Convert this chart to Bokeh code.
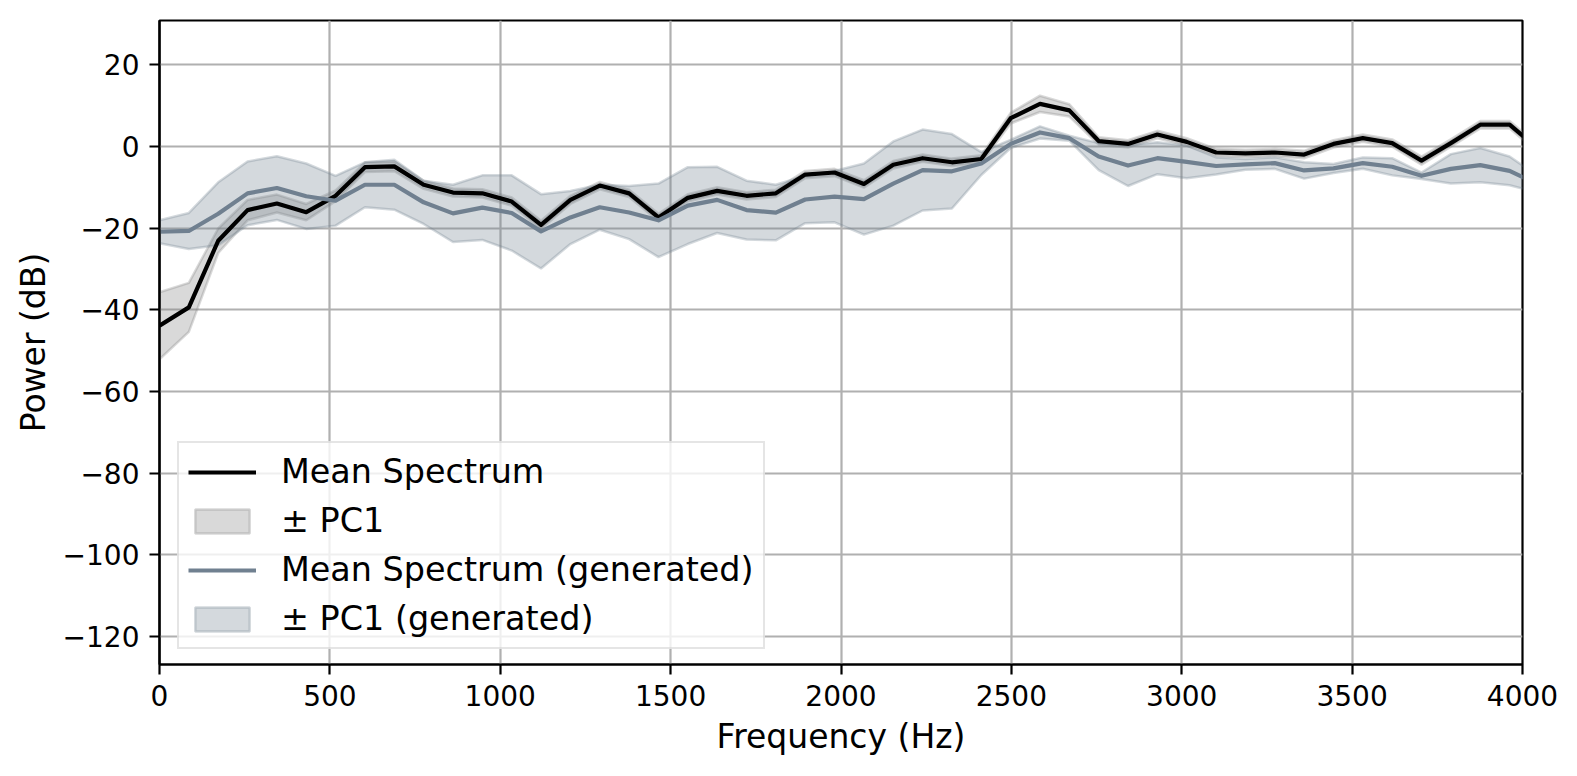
import numpy as np
from bokeh.plotting import figure
from bokeh.models import Range1d, FixedTicker, Legend, LegendItem
from bokeh.embed import file_html
from bokeh.resources import INLINE

# Frequency bins (Hz)
freq = [0.0, 86.1, 172.3, 258.4, 344.5, 430.7, 516.8, 602.9, 689.1, 775.2,
        861.3, 947.5, 1033.6, 1119.7, 1205.9, 1292.0, 1378.1, 1464.3, 1550.4, 1636.5,
        1722.7, 1808.8, 1894.9, 1981.1, 2067.2, 2153.3, 2239.5, 2325.6, 2411.7, 2497.9,
        2584.0, 2670.1, 2756.2, 2842.4, 2928.5, 3014.6, 3100.8, 3186.9, 3273.0, 3359.2,
        3445.3, 3531.4, 3617.6, 3703.7, 3789.8, 3876.0, 3962.1, 4048.2]

# Mean power spectrum of the recorded set (dB)
mean_spec = [-43.9, -39.4, -23.1, -15.6, -14.0, -16.1, -12.1, -5.1, -4.9, -9.4,
             -11.3, -11.5, -13.5, -19.2, -13.1, -9.6, -11.5, -17.4, -12.6, -10.9,
             -12.1, -11.5, -6.9, -6.4, -9.2, -4.5, -2.9, -3.9, -3.1, 6.9,
             10.4, 8.8, 1.3, 0.6, 2.9, 1.1, -1.5, -1.7, -1.5, -2.0,
             0.6, 2.0, 0.8, -3.5, 0.8, 5.3, 5.3, -0.8]

# First principal component amplitude around the mean (dB)
pc1 = [8.2, 6.0, 3.0, 2.5, 2.2, 2.0, 1.3, 1.2, 1.2, 1.0,
       1.0, 1.0, 1.0, 1.0, 1.0, 0.9, 0.9, 0.9, 0.9, 0.9,
       0.9, 0.9, 0.9, 0.9, 0.9, 0.9, 0.9, 0.9, 0.9, 1.3,
       2.0, 1.5, 0.9, 0.9, 0.9, 0.9, 0.9, 0.9, 0.9, 0.9,
       0.9, 0.9, 0.9, 1.0, 0.9, 0.9, 0.9, 0.9]

# Mean power spectrum of the generated set (dB)
mean_gen = [-20.9, -20.7, -16.5, -11.5, -10.2, -12.2, -13.3, -9.4, -9.4, -13.7,
            -16.4, -15.0, -16.3, -20.8, -17.4, -14.9, -16.2, -18.1, -14.5, -13.1,
            -15.6, -16.2, -13.0, -12.3, -12.9, -9.1, -5.8, -6.1, -4.2, 0.6,
            3.4, 2.0, -2.5, -4.7, -2.9, -3.8, -4.8, -4.4, -4.1, -5.9,
            -5.4, -4.1, -5.0, -7.2, -5.5, -4.6, -6.0, -9.4]

# First principal component amplitude of the generated set (dB)
pc1_gen = [2.8, 4.4, 7.7, 7.8, 7.8, 8.0, 6.1, 5.5, 6.1, 5.3,
           7.0, 7.9, 9.2, 9.1, 6.5, 5.5, 6.5, 9.0, 9.4, 8.1,
           7.2, 6.8, 5.8, 6.3, 8.7, 10.3, 9.9, 9.1, 2.8, 1.0,
           1.5, 0.6, 3.3, 5.0, 3.9, 4.0, 2.1, 1.3, 1.4, 2.0,
           1.1, 1.4, 2.1, 0.8, 3.6, 4.2, 3.5, 2.0]

x_ticks = [0, 500, 1000, 1500, 2000, 2500, 3000, 3500, 4000]
y_ticks = [-120, -100, -80, -60, -40, -20, 0, 20]

FONT = "DejaVu Sans"
GEN_COLOR = "#708090"

p = figure(
    frame_width=1363, frame_height=644,
    min_border_left=159, min_border_right=55,
    min_border_top=20, min_border_bottom=112,
    x_range=Range1d(0, 4000), y_range=Range1d(-126.8, 30.8),
    output_backend="svg", toolbar_location=None,
)
p.background_fill_color = "white"
p.border_fill_color = "white"
p.outline_line_color = "black"
p.outline_line_width = 2.2


def band(center, spread):
    c = np.asarray(center)
    s = np.asarray(spread)
    xs = np.concatenate([freq, freq[::-1]])
    ys = np.concatenate([c + s, (c - s)[::-1]])
    return xs, ys


bx, by = band(mean_spec, pc1)
band_real = p.patch(bx, by, fill_color="gray", fill_alpha=0.3,
                    line_color="gray", line_alpha=0.3, line_width=2.5)
gx, gy = band(mean_gen, pc1_gen)
band_gen = p.patch(gx, gy, fill_color=GEN_COLOR, fill_alpha=0.3,
                   line_color=GEN_COLOR, line_alpha=0.3, line_width=2.5)

line_real = p.line(freq, mean_spec, line_color="black", line_width=4.2,
                   line_join="round")
line_gen = p.line(freq, mean_gen, line_color=GEN_COLOR, line_width=4.2,
                  line_join="round")

# axes
for ax in (p.xaxis[0], p.yaxis[0]):
    ax.axis_line_color = "black"
    ax.axis_line_width = 2.2
    ax.major_tick_line_color = "black"
    ax.major_tick_line_width = 2.2
    ax.major_tick_out = 10
    ax.major_tick_in = 0
    ax.minor_tick_line_color = None
    ax.major_label_standoff = 10
    ax.major_label_text_font = FONT
    ax.major_label_text_font_size = "28px"
    ax.major_label_text_color = "black"
    ax.axis_label_text_font = FONT
    ax.axis_label_text_font_size = "33px"
    ax.axis_label_text_font_style = "normal"
    ax.axis_label_text_color = "black"

p.xaxis.ticker = FixedTicker(ticks=x_ticks)
p.yaxis.ticker = FixedTicker(ticks=y_ticks)
p.yaxis.major_label_overrides = {t: (str(t).replace("-", "\u2212")) for t in y_ticks}
p.xaxis.axis_label = "Frequency (Hz)"
p.yaxis.axis_label = "Power (dB)"
p.xaxis.axis_label_standoff = 8
p.yaxis.axis_label_standoff = 7

p.xgrid.ticker = FixedTicker(ticks=x_ticks)
p.ygrid.ticker = FixedTicker(ticks=y_ticks)
for g in (p.xgrid[0], p.ygrid[0]):
    g.grid_line_color = "#b0b0b0"
    g.grid_line_width = 2.2

legend = Legend(
    items=[
        LegendItem(label="Mean Spectrum", renderers=[line_real]),
        LegendItem(label="\u00b1 PC1", renderers=[band_real]),
        LegendItem(label="Mean Spectrum (generated)", renderers=[line_gen]),
        LegendItem(label="\u00b1 PC1 (generated)", renderers=[band_gen]),
    ],
    location=(18, 15),
    label_text_font=FONT,
    label_text_font_size="33.4px",
    label_text_color="black",
    label_height=33,
    label_standoff=25,
    glyph_width=68,
    glyph_height=30,
    spacing=10,
    padding=9,
    margin=0,
    border_line_color="#cccccc",
    border_line_width=2.5,
    background_fill_color="white",
    background_fill_alpha=0.8,
)
p.add_layout(legend, "center")

open("out.html", "w").write(file_html(p, INLINE))
